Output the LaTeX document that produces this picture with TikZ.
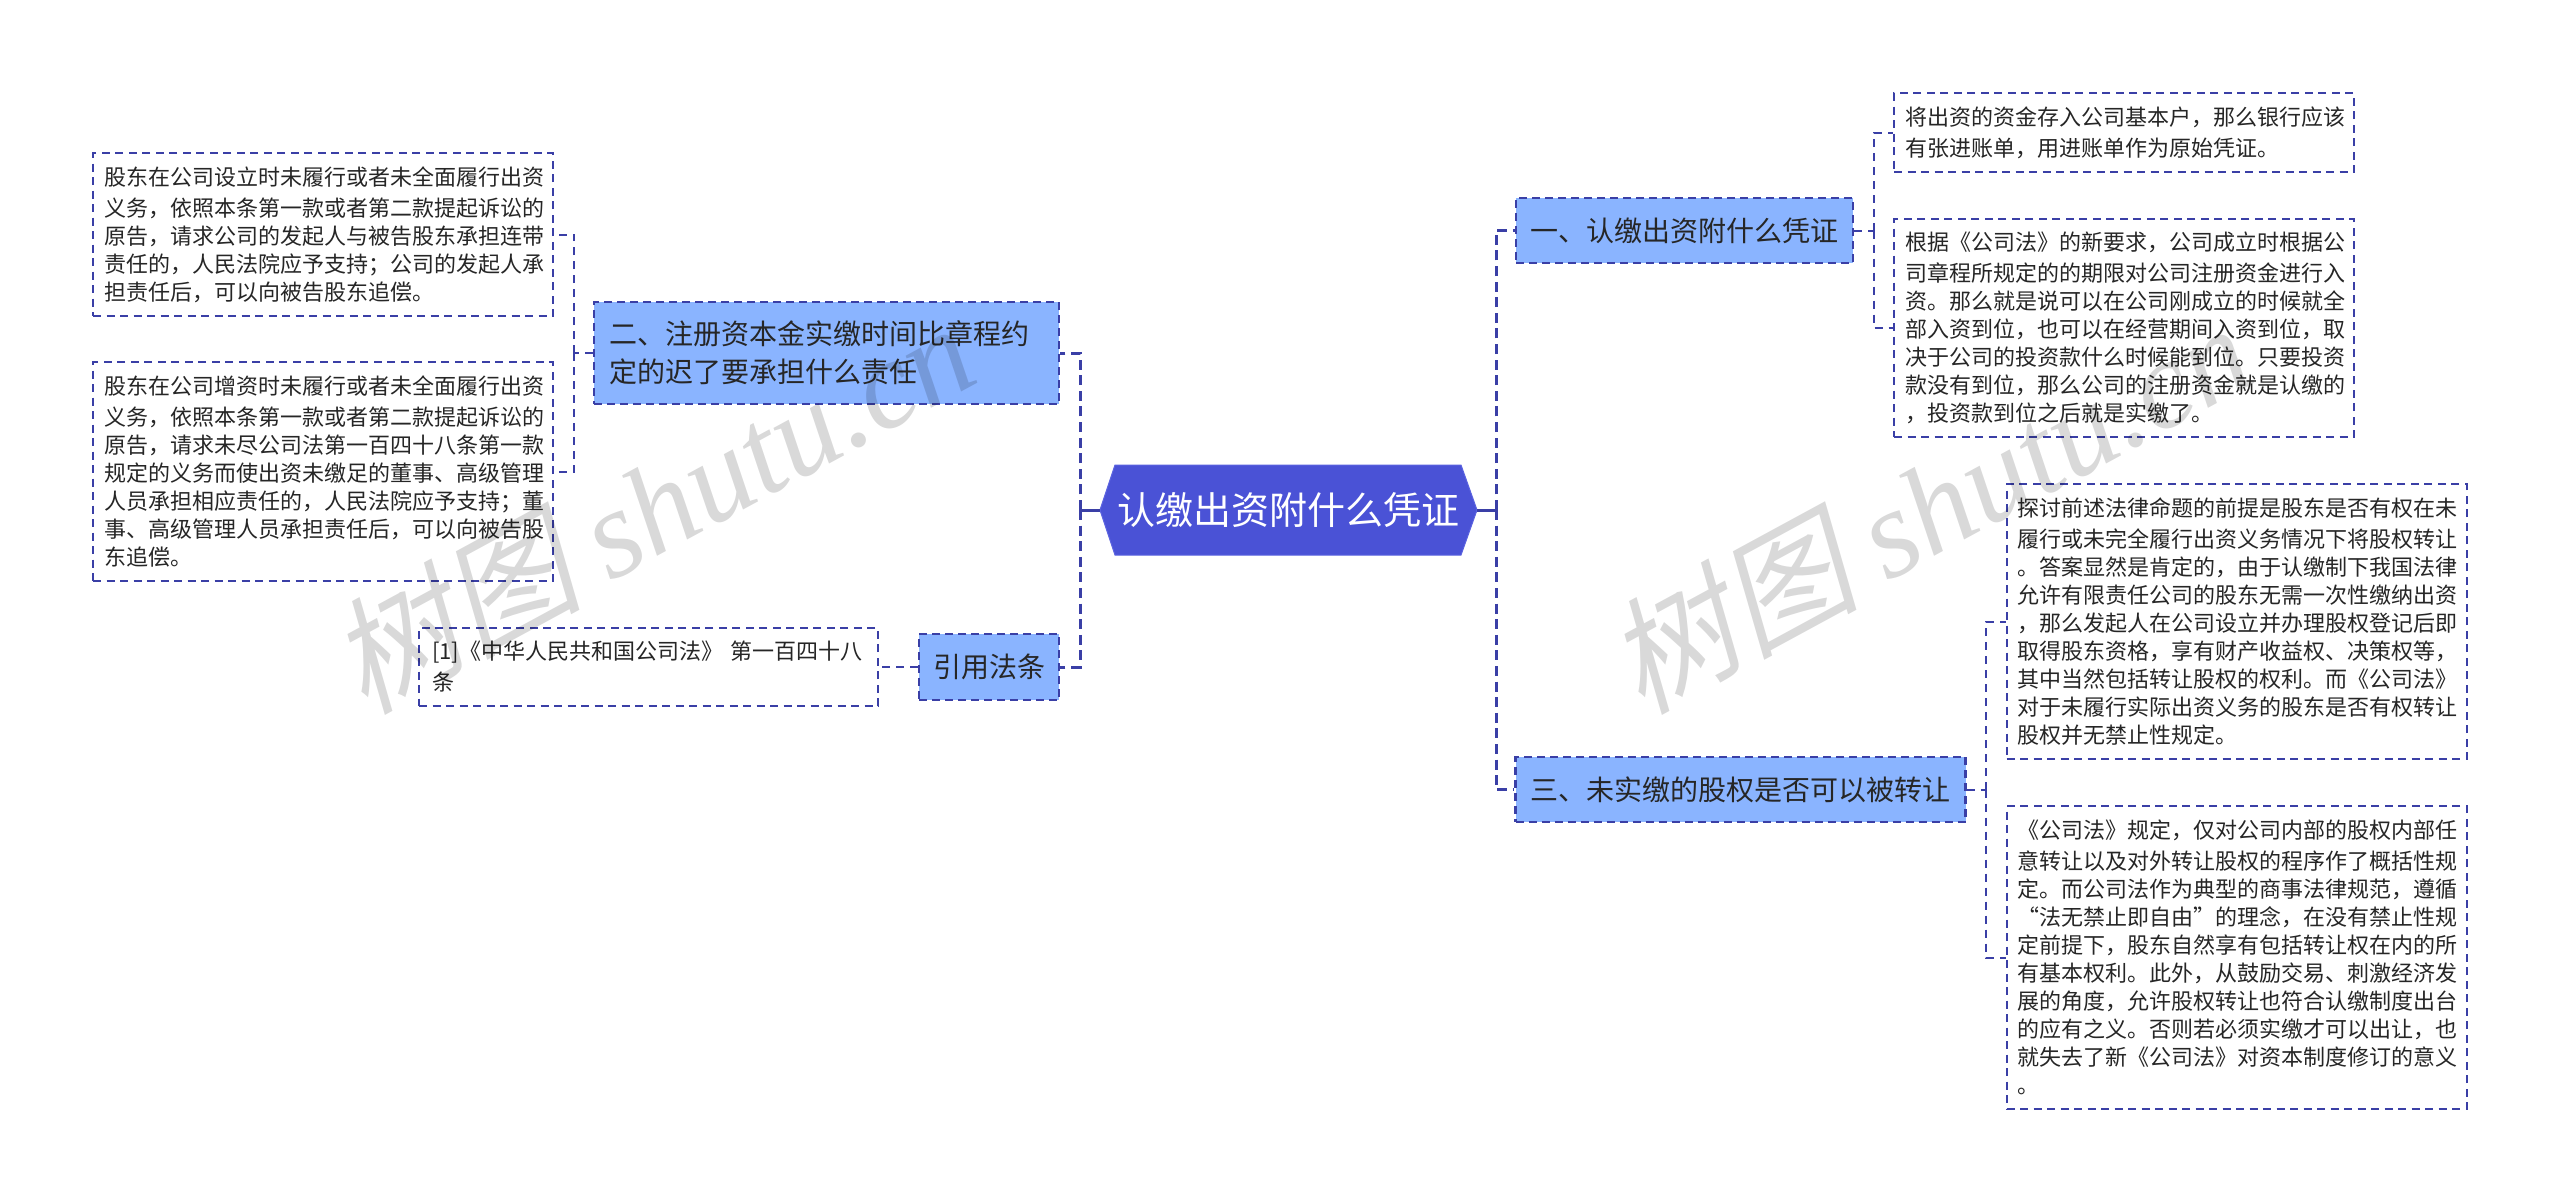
\documentclass[tikz,border=0pt]{standalone}
\usepackage{fontspec}
\setmainfont{Noto Sans CJK SC}
\newfontfamily\wmcjk[FakeSlant=0.22]{Noto Sans CJK SC}
\newfontfamily\wmlat[ItalicFont=Liberation Serif Italic]{Liberation Serif}
\definecolor{linec}{HTML}{3A3FA6}
\definecolor{hubfill}{HTML}{4A52D6}
\definecolor{hubedge}{HTML}{5A62E0}
\definecolor{branchfill}{HTML}{8AB4FF}
\definecolor{inkc}{HTML}{262626}
\tikzset{
  x=1pt,y=-1pt,
  trunk/.style={draw=linec,line width=3pt,dash pattern=on 10pt off 5.6pt},
  stub/.style={draw=linec,line width=3pt},
  twig/.style={draw=linec,line width=2pt,dash pattern=on 8pt off 6pt},
  leaf/.style={draw=linec,line width=2pt,dash pattern=on 8pt off 5.5pt,inner xsep=11pt,inner ysep=0pt,text width=438pt,align=left,text=inkc,font=\fontsize{22}{28}\selectfont,execute at begin node={\vspace*{3pt}}},
  branch/.style={draw=linec,fill=branchfill,line width=2.5pt,dash pattern=on 8pt off 5pt,inner sep=0pt,align=center,text=inkc,font=\fontsize{28}{38}\selectfont},
  hubtext/.style={inner sep=0pt,text=white,font=\fontsize{38}{44}\selectfont,align=center},
  wmark/.style={rotate=28.5,text=black,text opacity=0.15,inner sep=0pt}
}
\begin{document}
\begin{tikzpicture}
\useasboundingbox (0,0) rectangle (2560,1203);
\fill[white] (0,0) rectangle (2560,1203);
% hub
\fill[hubfill] (1100,510) -- (1115,465) -- (1461,465) -- (1477,510) -- (1461,555) -- (1115,555) -- cycle;
\draw[hubedge,line width=1pt] (1100,510) -- (1115,465) -- (1461,465) -- (1477,510) -- (1461,555) -- (1115,555) -- cycle;
\node[hubtext,minimum width=377pt,minimum height=90pt] (hub) at (1288.5,510) {认缴出资附什么凭证};
% branches
\node[branch,minimum width=337pt,minimum height=65pt] (r1) at (1684.5,230.5) {一、认缴出资附什么凭证};
\node[branch,minimum width=450pt,minimum height=65pt] (r3) at (1740.5,789.5) {三、未实缴的股权是否可以被转让};
\node[branch,minimum width=465pt,minimum height=102pt,inner xsep=15pt,text width=435pt,align=left] (r2) at (826.5,353) {二、注册资本金实缴时间比章程约\\定的迟了要承担什么责任};
\node[branch,minimum width=140pt,minimum height=66pt] (law) at (989,667) {引用法条};
% leaves
\node[leaf,minimum height=79pt] (l1) at (2124,132.5) {将出资的资金存入公司基本户，那么银行应该\\有张进账单，用进账单作为原始凭证。};
\node[leaf,minimum height=218pt] (l2) at (2124,328) {根据《公司法》的新要求，公司成立时根据公\\司章程所规定的的期限对公司注册资金进行入\\资。那么就是说可以在公司刚成立的时候就全\\部入资到位，也可以在经营期间入资到位，取\\决于公司的投资款什么时候能到位。只要投资\\款没有到位，那么公司的注册资金就是认缴的\\，投资款到位之后就是实缴了。};
\node[leaf,minimum height=275pt] (l3) at (2236.5,621.5) {探讨前述法律命题的前提是股东是否有权在未\\履行或未完全履行出资义务情况下将股权转让\\。答案显然是肯定的，由于认缴制下我国法律\\允许有限责任公司的股东无需一次性缴纳出资\\，那么发起人在公司设立并办理股权登记后即\\取得股东资格，享有财产收益权、决策权等，\\其中当然包括转让股权的权利。而《公司法》\\对于未履行实际出资义务的股东是否有权转让\\股权并无禁止性规定。};
\node[leaf,minimum height=303pt] (l4) at (2236.5,957.5) {《公司法》规定，仅对公司内部的股权内部任\\意转让以及对外转让股权的程序作了概括性规\\定。而公司法作为典型的商事法律规范，遵循\\“法无禁止即自由”的理念，在没有禁止性规\\定前提下，股东自然享有包括转让权在内的所\\有基本权利。此外，从鼓励交易、刺激经济发\\展的角度，允许股权转让也符合认缴制度出台\\的应有之义。否则若必须实缴才可以出让，也\\就失去了新《公司法》对资本制度修订的意义\\。};
\node[leaf,minimum height=163pt] (l5) at (323,234.5) {股东在公司设立时未履行或者未全面履行出资\\义务，依照本条第一款或者第二款提起诉讼的\\原告，请求公司的发起人与被告股东承担连带\\责任的，人民法院应予支持；公司的发起人承\\担责任后，可以向被告股东追偿。};
\node[leaf,minimum height=219pt] (l6) at (323,471.5) {股东在公司增资时未履行或者未全面履行出资\\义务，依照本条第一款或者第二款提起诉讼的\\原告，请求未尽公司法第一百四十八条第一款\\规定的义务而使出资未缴足的董事、高级管理\\人员承担相应责任的，人民法院应予支持；董\\事、高级管理人员承担责任后，可以向被告股\\东追偿。};
\node[leaf,minimum height=78pt,inner xsep=13pt,text width=433pt] (l7) at (648.5,667) {[1]《中华人民共和国公司法》 第一百四十八\\条};
% junctions
\coordinate (rs) at (1496,510);
\coordinate (ls) at (1080,510);
\coordinate (s1) at (1874,230.5);
\coordinate (s3) at (1986,789.5);
\coordinate (s2) at (574,353);
% trunk connectors
\draw[stub] (hub.east) -- (rs);
\draw[stub] (hub.west) -- (ls);
\draw[trunk] (rs) |- (r1.west);
\draw[trunk] (rs) |- (r3.west);
\draw[trunk] (ls) |- (r2.east);
\draw[trunk] (ls) |- (law.east);
% twig connectors
\draw[twig] (r1.east) -- (s1);
\draw[twig] (s1) |- (l1.west);
\draw[twig] (s1) |- (l2.west);
\draw[twig] (r3.east) -- (s3);
\draw[twig] (s3) |- (l3.west);
\draw[twig] (s3) |- (l4.west);
\draw[twig] (r2.west) -- (s2);
\draw[twig] (s2) |- (l5.east);
\draw[twig] (s2) |- (l6.east);
\draw[twig] (law.west) -- (l7.east);
% watermarks
\node[wmark] (w1) at (651,506) {\fontsize{126}{126}\selectfont{\wmcjk 树图} {\wmlat\itshape shutu.cn}};
\node[wmark] (w2) at (1928,506) {\fontsize{126}{126}\selectfont{\wmcjk 树图} {\wmlat\itshape shutu.cn}};
\end{tikzpicture}
\end{document}
